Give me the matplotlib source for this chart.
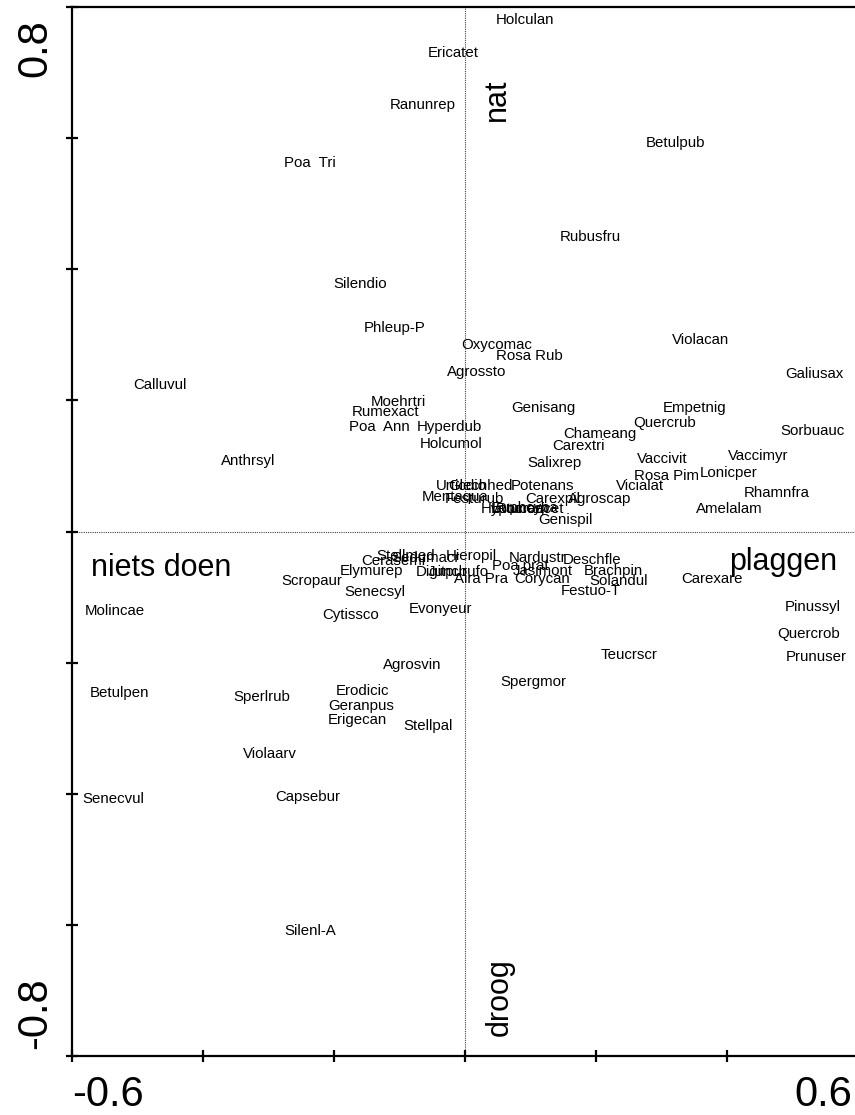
import matplotlib
matplotlib.use("Agg")
import matplotlib.pyplot as plt
from matplotlib.transforms import ScaledTranslation

plt.rcParams['font.family'] = ['Liberation Sans', 'DejaVu Sans']

# species scores (label positions) on the first two ordination axes
species = [
    "Holculan", "Ericatet", "Ranunrep", "Betulpub", "Poa  Tri", "Rubusfru",
    "Silendio", "Phleup-P", "Oxycomac", "Rosa Rub", "Violacan", "Agrossto",
    "Galiusax", "Calluvul", "Moehrtri", "Rumexact", "Genisang", "Empetnig",
    "Quercrub", "Sorbuauc", "Poa  Ann", "Hyperdub", "Chameang", "Holcumol",
    "Carextri", "Anthrsyl", "Vaccivit", "Vaccimyr", "Salixrep", "Lonicper",
    "Rosa Pim", "Rhamnfra", "Vicialat", "Amelalam", "Potenans", "Carexpil",
    "Agroscap", "Genispil", "Urticdio", "Glechhed", "Mentaqua", "Festurub",
    "Hypocrad", "Lotucorn", "Rumeacet", "Euphcypa",
    "Scropaur", "Elymurep", "Senecsyl", "Cytissco", "Evonyeur", "Stellmed",
    "Hieropil", "Cerasemi", "Sedumacr", "Digitpur", "Juncbufo", "Aira Pra",
    "Corycan", "Festuo-T", "Solandul", "Nardustr", "Deschfle", "Poa prat",
    "Jasimont", "Brachpin", "Carexare", "Molincae", "Pinussyl", "Quercrob",
    "Prunuser", "Teucrscr", "Agrosvin", "Spergmor", "Betulpen", "Sperlrub",
    "Erodicic", "Geranpus", "Erigecan", "Stellpal", "Violaarv", "Capsebur",
    "Senecvul", "Silenl-A",
]
axis1 = [
    0.092, -0.018, -0.064, 0.322, -0.237, 0.192,
    -0.160, -0.107, 0.049, 0.098, 0.359, 0.018,
    0.533, -0.466, -0.102, -0.122, 0.119, 0.351,
    0.305, 0.530, -0.131, -0.024, 0.206, -0.021,
    0.173, -0.331, 0.301, 0.447, 0.136, 0.402,
    0.308, 0.476, 0.267, 0.403, 0.119, 0.134,
    0.206, 0.153, -0.006, 0.024, -0.015, 0.014,
    0.073, 0.084, 0.099, 0.092,
    -0.234, -0.142, -0.137, -0.174, -0.037, -0.090,
    0.010, -0.110, -0.060, -0.035, -0.010, 0.024,
    0.118, 0.192, 0.234, 0.111, 0.194, 0.085,
    0.119, 0.226, 0.377, -0.534, 0.531, 0.524,
    0.537, 0.250, -0.081, 0.104, -0.527, -0.310,
    -0.157, -0.159, -0.165, -0.056, -0.298, -0.240,
    -0.537, -0.237,
]
axis2 = [
    0.780, 0.730, 0.650, 0.592, 0.562, 0.449,
    0.377, 0.311, 0.284, 0.267, 0.292, 0.244,
    0.240, 0.223, 0.197, 0.182, 0.189, 0.188,
    0.165, 0.154, 0.159, 0.159, 0.148, 0.133,
    0.130, 0.107, 0.111, 0.115, 0.104, 0.089,
    0.084, 0.058, 0.070, 0.034, 0.069, 0.050,
    0.050, 0.017, 0.069, 0.069, 0.052, 0.050,
    0.035, 0.035, 0.035, 0.036,
    -0.075, -0.060, -0.093, -0.128, -0.118, -0.037,
    -0.037, -0.045, -0.040, -0.062, -0.062, -0.073,
    -0.072, -0.090, -0.075, -0.040, -0.044, -0.052,
    -0.060, -0.060, -0.073, -0.121, -0.115, -0.156,
    -0.192, -0.189, -0.203, -0.230, -0.247, -0.253,
    -0.243, -0.266, -0.288, -0.296, -0.340, -0.405,
    -0.408, -0.609,
]

# gradient interpretation labels
gradients = ["niets doen", "plaggen", "nat", "droog"]
grad_x = [-0.464, 0.485, 0.049, 0.053]
grad_y = [-0.055, -0.047, 0.658, -0.710]
grad_rot = [0, 0, 90, 90]

x_ticks = [-0.6, -0.4, -0.2, 0.0, 0.2, 0.4, 0.6]
x_ticklabels = ["-0.6", "", "", "", "", "", "0.6"]
y_ticks = [-0.8, -0.6, -0.4, -0.2, 0.0, 0.2, 0.4, 0.6, 0.8]
y_ticklabels = ["-0.8", "", "", "", "", "", "", "", "0.8"]

fig = plt.figure(figsize=(8.55, 11.15), dpi=100)
ax = fig.add_axes([72 / 855, 59 / 1115, 786 / 855, 1049 / 1115])
ax.set_xlim(-0.6, 0.6)
ax.set_ylim(-0.8, 0.8)

ax.axhline(0, color="#444444", lw=0.8, linestyle=(0, (1, 1)), zorder=1)
ax.axvline(0, color="#444444", lw=0.8, linestyle=(0, (1, 1)), zorder=1)

for name, x, y in zip(species, axis1, axis2):
    ax.text(x, y, name, ha="center", va="center", fontsize=10.8, color="black", zorder=3)

for name, x, y, r in zip(gradients, grad_x, grad_y, grad_rot):
    ax.text(x, y, name, ha="center", va="center", fontsize=22, rotation=r, color="black", zorder=3)

for s in ax.spines.values():
    s.set_linewidth(1.6)

ax.set_xticks(x_ticks)
ax.set_xticklabels(x_ticklabels)
ax.set_yticks(y_ticks)
ax.set_yticklabels(y_ticklabels)
ax.tick_params(axis="both", direction="inout", length=9, width=1.6, labelsize=30)
ax.tick_params(axis="x", pad=9)
ax.tick_params(axis="y", pad=7.5)


def nudge(label, dx_px, dy_px):
    off = ScaledTranslation(dx_px / 100, dy_px / 100, fig.dpi_scale_trans)
    label.set_transform(label.get_transform() + off)


xl = ax.get_xticklabels()
xl[0].set_ha("left")
xl[-1].set_ha("right")
nudge(xl[-1], -6, 0)
yl = ax.get_yticklabels()
for t in yl:
    t.set_rotation(90)
yl[0].set_va("bottom")
yl[-1].set_va("top")
nudge(yl[0], 0, 7)
nudge(yl[-1], 0, -12)

fig.savefig("out.png", dpi=100)
